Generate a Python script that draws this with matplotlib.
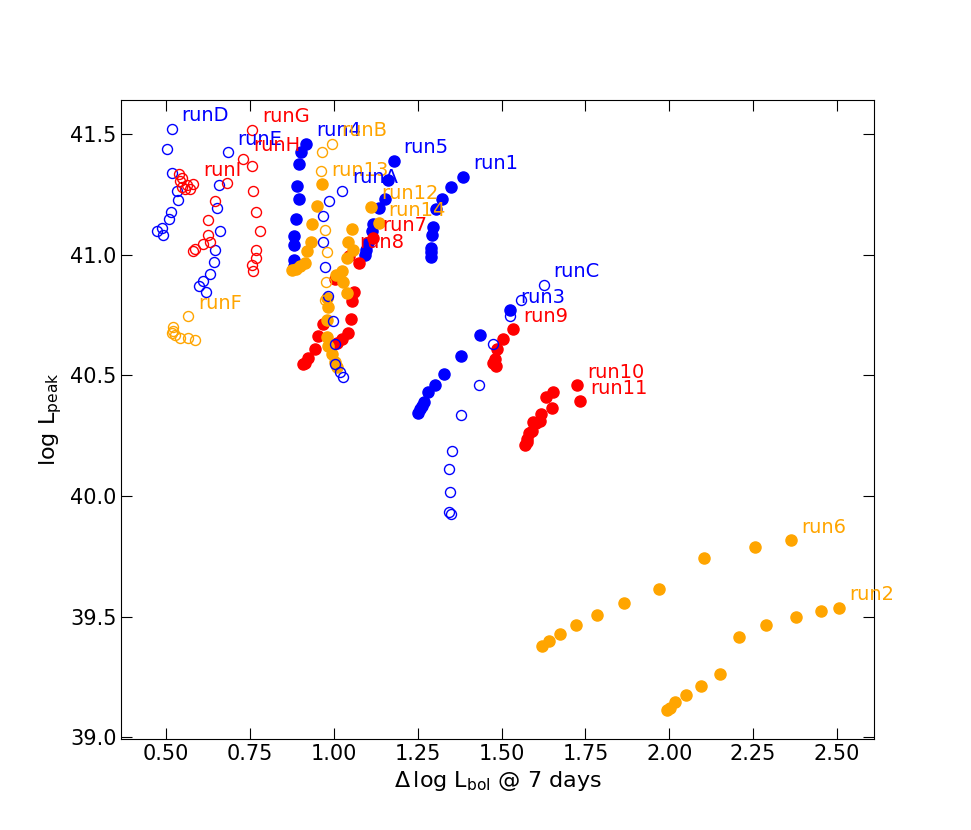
import matplotlib
matplotlib.use("Agg")
import matplotlib.pyplot as plt

plt.rcParams['mathtext.fontset'] = 'dejavusans'

# --- values (first point of each run carries the label) ---
run1_x = [1.384, 1.348, 1.321, 1.303, 1.294, 1.291, 1.288, 1.288, 1.288]
run1_y = [41.323, 41.278, 41.232, 41.187, 41.116, 41.083, 41.029, 41.009, 40.992]
run2_x = [2.507, 2.452, 2.377, 2.287, 2.209, 2.151, 2.093, 2.051, 2.018, 2.001, 1.993]
run2_y = [39.538, 39.522, 39.497, 39.464, 39.415, 39.262, 39.215, 39.174, 39.146, 39.122, 39.114]
run3_x = [1.524, 1.434, 1.378, 1.327, 1.300, 1.279, 1.268, 1.262, 1.256, 1.250]
run3_y = [40.769, 40.665, 40.578, 40.504, 40.462, 40.433, 40.388, 40.371, 40.359, 40.346]
run4_x = [0.916, 0.901, 0.895, 0.889, 0.895, 0.886, 0.880, 0.880, 0.880, 0.880]
run4_y = [41.460, 41.423, 41.377, 41.286, 41.232, 41.149, 41.079, 41.038, 40.976, 40.951]
run5_x = [1.178, 1.160, 1.151, 1.133, 1.115, 1.113, 1.101, 1.095, 1.092]
run5_y = [41.389, 41.307, 41.232, 41.191, 41.125, 41.096, 41.050, 41.021, 41.000]
run6_x = [2.364, 2.256, 2.103, 1.969, 1.865, 1.784, 1.721, 1.673, 1.641, 1.621]
run6_y = [39.817, 39.791, 39.745, 39.613, 39.559, 39.509, 39.464, 39.430, 39.400, 39.379]
run7_x = [1.115, 1.074, 1.059, 1.053, 1.050, 1.041, 1.023, 1.008]
run7_y = [41.067, 40.967, 40.847, 40.806, 40.735, 40.677, 40.649, 40.632]
run8_x = [1.044, 1.002, 0.967, 0.952, 0.943, 0.922, 0.913, 0.907]
run8_y = [40.996, 40.897, 40.711, 40.661, 40.607, 40.570, 40.549, 40.545]
run9_x = [1.534, 1.503, 1.485, 1.479, 1.482, 1.473]
run9_y = [40.690, 40.649, 40.611, 40.566, 40.537, 40.553]
run10_x = [1.724, 1.652, 1.631, 1.616, 1.601, 1.589, 1.575]
run10_y = [40.458, 40.429, 40.409, 40.338, 40.301, 40.268, 40.222]
run11_x = [1.733, 1.649, 1.613, 1.592, 1.583, 1.577, 1.571]
run11_y = [40.392, 40.363, 40.309, 40.305, 40.260, 40.235, 40.210]
run12_x = [1.110, 1.053, 1.041, 1.056, 1.038, 1.023, 1.005, 1.026, 1.038]
run12_y = [41.199, 41.108, 41.054, 41.021, 40.984, 40.934, 40.914, 40.885, 40.843]
run13_x = [0.963, 0.949, 0.934, 0.931, 0.919, 0.913, 0.898, 0.886, 0.874]
run13_y = [41.294, 41.203, 41.125, 41.054, 41.017, 40.967, 40.951, 40.942, 40.938]
run14_x = [1.133, 0.978, 0.981, 0.978, 0.978, 0.981, 0.993, 1.002, 1.008]
run14_y = [41.129, 40.822, 40.785, 40.731, 40.657, 40.620, 40.587, 40.554, 40.533]

runA_x = [1.023, 0.984, 0.966, 0.966, 0.972, 0.981, 0.996, 1.002, 1.002, 1.017, 1.026]
runA_y = [41.265, 41.220, 41.158, 41.054, 40.947, 40.827, 40.727, 40.628, 40.545, 40.512, 40.495]
runB_x = [0.993, 0.963, 0.960, 0.972, 0.978, 0.975, 0.972]
runB_y = [41.460, 41.426, 41.348, 41.100, 41.009, 40.885, 40.814]
runC_x = [1.625, 1.559, 1.524, 1.473, 1.431, 1.378, 1.351, 1.342, 1.345, 1.342, 1.348]
runC_y = [40.876, 40.814, 40.744, 40.628, 40.458, 40.334, 40.185, 40.111, 40.015, 39.936, 39.924]
runD_x = [0.516, 0.501, 0.516, 0.531, 0.534, 0.513, 0.507, 0.487, 0.472, 0.490]
runD_y = [41.522, 41.439, 41.340, 41.265, 41.228, 41.178, 41.149, 41.112, 41.096, 41.083]
runE_x = [0.683, 0.656, 0.651, 0.659, 0.645, 0.642, 0.630, 0.609, 0.597, 0.618]
runE_y = [41.423, 41.290, 41.191, 41.096, 41.021, 40.971, 40.918, 40.889, 40.868, 40.847]
runF_x = [0.564, 0.519, 0.519, 0.525, 0.516, 0.540, 0.564, 0.585]
runF_y = [40.744, 40.702, 40.682, 40.669, 40.677, 40.656, 40.653, 40.648]
runG_x = [0.755, 0.755, 0.758, 0.767, 0.779, 0.767, 0.767, 0.755, 0.758]
runG_y = [41.518, 41.369, 41.265, 41.178, 41.096, 41.021, 40.984, 40.959, 40.934]
runH_x = [0.728, 0.680]
runH_y = [41.398, 41.298]
runI_x = [0.579, 0.537, 0.546, 0.540, 0.546, 0.555, 0.570, 0.561,
          0.645, 0.624, 0.624, 0.630, 0.609, 0.585, 0.579]
runI_y = [41.294, 41.332, 41.319, 41.303, 41.282, 41.270, 41.270, 41.290,
          41.220, 41.145, 41.083, 41.054, 41.042, 41.025, 41.013]

# name, x, y, colour, filled
runs = [
    ("run1", run1_x, run1_y, "blue", True),
    ("run2", run2_x, run2_y, "orange", True),
    ("run3", run3_x, run3_y, "blue", True),
    ("run4", run4_x, run4_y, "blue", True),
    ("run5", run5_x, run5_y, "blue", True),
    ("run6", run6_x, run6_y, "orange", True),
    ("run7", run7_x, run7_y, "red", True),
    ("run8", run8_x, run8_y, "red", True),
    ("run9", run9_x, run9_y, "red", True),
    ("run10", run10_x, run10_y, "red", True),
    ("run11", run11_x, run11_y, "red", True),
    ("run12", run12_x, run12_y, "orange", True),
    ("run13", run13_x, run13_y, "orange", True),
    ("run14", run14_x, run14_y, "orange", True),
    ("runA", runA_x, runA_y, "blue", False),
    ("runB", runB_x, runB_y, "orange", False),
    ("runC", runC_x, runC_y, "blue", False),
    ("runD", runD_x, runD_y, "blue", False),
    ("runE", runE_x, runE_y, "blue", False),
    ("runF", runF_x, runF_y, "orange", False),
    ("runG", runG_x, runG_y, "red", False),
    ("runH", runH_x, runH_y, "red", False),
    ("runI", runI_x, runI_y, "red", False),
]

fig, ax = plt.subplots(figsize=(9.71, 8.30), dpi=100)

for name, xs, ys, col, filled in runs:
    if filled:
        ax.plot(xs, ys, "o", color=col, ms=8, mew=1, ls="none")
    else:
        ax.plot(xs, ys, "o", mfc="none", mec=col, ms=7.2, mew=1, ls="none")
    # label sits just up and right of the run's first point
    ax.text(xs[0] + 0.03, ys[0] + 0.03, name, color=col, fontsize=14)

ax.set_xlim(0.366, 2.61)
ax.set_ylim(38.995, 41.642)
ax.set_xticks([0.5, 0.75, 1.0, 1.25, 1.5, 1.75, 2.0, 2.25, 2.5])
ax.set_yticks([39.0, 39.5, 40.0, 40.5, 41.0, 41.5])
ax.set_xticklabels(["0.50", "0.75", "1.00", "1.25", "1.50", "1.75", "2.00", "2.25", "2.50"])
ax.tick_params(direction="in", top=True, right=True, length=8, labelsize=15)

ax.set_xlabel(r"$\Delta\,\log\,\mathrm{L_{bol}}$ @ 7 days", fontsize=16)
ax.set_ylabel(r"$\log\,\mathrm{L_{peak}}$", fontsize=16)

fig.savefig("out.png", dpi=100)
